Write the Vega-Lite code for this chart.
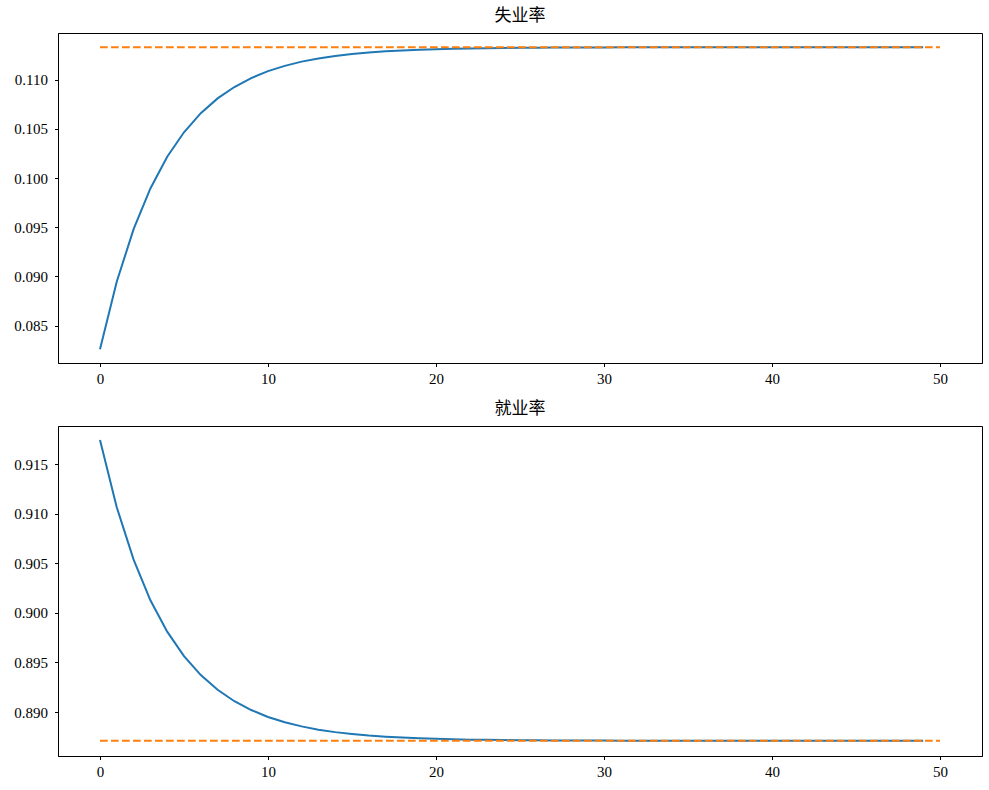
{
  "$schema": "https://vega.github.io/schema/vega-lite/v6.json",
  "background": "white",
  "padding": {"left": 12, "top": 6, "right": 8, "bottom": 5},
  "datasets": {
    "unemp": [
      {"t": 0, "rate": 0.0826}, {"t": 1, "rate": 0.08948}, {"t": 2, "rate": 0.09481}, {"t": 3, "rate": 0.09895},
      {"t": 4, "rate": 0.10217}, {"t": 5, "rate": 0.10466}, {"t": 6, "rate": 0.1066}, {"t": 7, "rate": 0.1081},
      {"t": 8, "rate": 0.10926}, {"t": 9, "rate": 0.11017}, {"t": 10, "rate": 0.11087}, {"t": 11, "rate": 0.11141},
      {"t": 12, "rate": 0.11184}, {"t": 13, "rate": 0.11216}, {"t": 14, "rate": 0.11242}, {"t": 15, "rate": 0.11262},
      {"t": 16, "rate": 0.11277}, {"t": 17, "rate": 0.11289}, {"t": 18, "rate": 0.11298}, {"t": 19, "rate": 0.11305},
      {"t": 20, "rate": 0.11311}, {"t": 21, "rate": 0.11315}, {"t": 22, "rate": 0.11318}, {"t": 23, "rate": 0.11321},
      {"t": 24, "rate": 0.11323}, {"t": 25, "rate": 0.11325}, {"t": 26, "rate": 0.11326}, {"t": 27, "rate": 0.11327},
      {"t": 28, "rate": 0.11327}, {"t": 29, "rate": 0.11328}, {"t": 30, "rate": 0.11328}, {"t": 31, "rate": 0.11329},
      {"t": 32, "rate": 0.11329}, {"t": 33, "rate": 0.11329}, {"t": 34, "rate": 0.11329}, {"t": 35, "rate": 0.1133},
      {"t": 36, "rate": 0.1133}, {"t": 37, "rate": 0.1133}, {"t": 38, "rate": 0.1133}, {"t": 39, "rate": 0.1133},
      {"t": 40, "rate": 0.1133}, {"t": 41, "rate": 0.1133}, {"t": 42, "rate": 0.1133}, {"t": 43, "rate": 0.1133},
      {"t": 44, "rate": 0.1133}, {"t": 45, "rate": 0.1133}, {"t": 46, "rate": 0.1133}, {"t": 47, "rate": 0.1133},
      {"t": 48, "rate": 0.1133}, {"t": 49, "rate": 0.1133}
    ],
    "emp": [
      {"t": 0, "rate": 0.91745}, {"t": 1, "rate": 0.91065}, {"t": 2, "rate": 0.90538}, {"t": 3, "rate": 0.90128},
      {"t": 4, "rate": 0.89811}, {"t": 5, "rate": 0.89564}, {"t": 6, "rate": 0.89373}, {"t": 7, "rate": 0.89224},
      {"t": 8, "rate": 0.89109}, {"t": 9, "rate": 0.8902}, {"t": 10, "rate": 0.8895}, {"t": 11, "rate": 0.88896},
      {"t": 12, "rate": 0.88855}, {"t": 13, "rate": 0.88822}, {"t": 14, "rate": 0.88797}, {"t": 15, "rate": 0.88778},
      {"t": 16, "rate": 0.88762}, {"t": 17, "rate": 0.88751}, {"t": 18, "rate": 0.88742}, {"t": 19, "rate": 0.88735},
      {"t": 20, "rate": 0.88729}, {"t": 21, "rate": 0.88725}, {"t": 22, "rate": 0.88721}, {"t": 23, "rate": 0.88719},
      {"t": 24, "rate": 0.88717}, {"t": 25, "rate": 0.88715}, {"t": 26, "rate": 0.88714}, {"t": 27, "rate": 0.88713},
      {"t": 28, "rate": 0.88713}, {"t": 29, "rate": 0.88712}, {"t": 30, "rate": 0.88712}, {"t": 31, "rate": 0.88711},
      {"t": 32, "rate": 0.88711}, {"t": 33, "rate": 0.88711}, {"t": 34, "rate": 0.88711}, {"t": 35, "rate": 0.8871},
      {"t": 36, "rate": 0.8871}, {"t": 37, "rate": 0.8871}, {"t": 38, "rate": 0.8871}, {"t": 39, "rate": 0.8871},
      {"t": 40, "rate": 0.8871}, {"t": 41, "rate": 0.8871}, {"t": 42, "rate": 0.8871}, {"t": 43, "rate": 0.8871},
      {"t": 44, "rate": 0.8871}, {"t": 45, "rate": 0.8871}, {"t": 46, "rate": 0.8871}, {"t": 47, "rate": 0.8871},
      {"t": 48, "rate": 0.8871}, {"t": 49, "rate": 0.8871}
    ],
    "unemp_ss": [{"t": 0, "rate": 0.1133}, {"t": 50, "rate": 0.1133}],
    "emp_ss": [{"t": 0, "rate": 0.8871}, {"t": 50, "rate": 0.8871}]
  },
  "bounds": "flush",
  "spacing": 63,
  "vconcat": [
    {
      "width": 924,
      "height": 330,
      "title": "失业率",
      "layer": [
        {
          "data": {"name": "unemp"},
          "mark": {"type": "line", "color": "#1f77b4", "strokeWidth": 2},
          "encoding": {
            "x": {"field": "t", "type": "quantitative", "scale": {"domain": [-2.5, 52.5], "nice": false, "zero": false}, "axis": {"values": [0, 10, 20, 30, 40, 50], "title": null}},
            "y": {"field": "rate", "type": "quantitative", "scale": {"domain": [0.0812, 0.11475], "nice": false, "zero": false}, "axis": {"values": [0.085, 0.09, 0.095, 0.1, 0.105, 0.11], "format": ".3f", "title": null}}
          }
        },
        {
          "data": {"name": "unemp_ss"},
          "mark": {"type": "line", "color": "#ff7f0e", "strokeWidth": 2, "strokeDash": [7.7, 3.3]},
          "encoding": {
            "x": {"field": "t", "type": "quantitative"},
            "y": {"field": "rate", "type": "quantitative"}
          }
        }
      ]
    },
    {
      "width": 924,
      "height": 330,
      "title": "就业率",
      "layer": [
        {
          "data": {"name": "emp"},
          "mark": {"type": "line", "color": "#1f77b4", "strokeWidth": 2},
          "encoding": {
            "x": {"field": "t", "type": "quantitative", "scale": {"domain": [-2.5, 52.5], "nice": false, "zero": false}, "axis": {"values": [0, 10, 20, 30, 40, 50], "title": null}},
            "y": {"field": "rate", "type": "quantitative", "scale": {"domain": [0.88556, 0.91887], "nice": false, "zero": false}, "axis": {"values": [0.89, 0.895, 0.9, 0.905, 0.91, 0.915], "format": ".3f", "title": null}}
          }
        },
        {
          "data": {"name": "emp_ss"},
          "mark": {"type": "line", "color": "#ff7f0e", "strokeWidth": 2, "strokeDash": [7.7, 3.3]},
          "encoding": {
            "x": {"field": "t", "type": "quantitative"},
            "y": {"field": "rate", "type": "quantitative"}
          }
        }
      ]
    }
  ],
  "config": {
    "font": "Liberation Serif",
    "view": {"stroke": "black", "strokeWidth": 1},
    "title": {"font": "Liberation Serif, Noto Sans CJK SC", "fontSize": 17, "fontWeight": "normal", "color": "black", "offset": 8, "anchor": "middle"},
    "axis": {
      "grid": false,
      "domainColor": "black",
      "domainWidth": 1,
      "tickColor": "black",
      "tickWidth": 1,
      "tickSize": 3.5,
      "labelFont": "Liberation Serif",
      "labelFontSize": 15,
      "labelColor": "black",
      "labelPadding": 5
    },
    "axisY": {"minExtent": 45, "maxExtent": 45, "labelPadding": 7}
  }
}
